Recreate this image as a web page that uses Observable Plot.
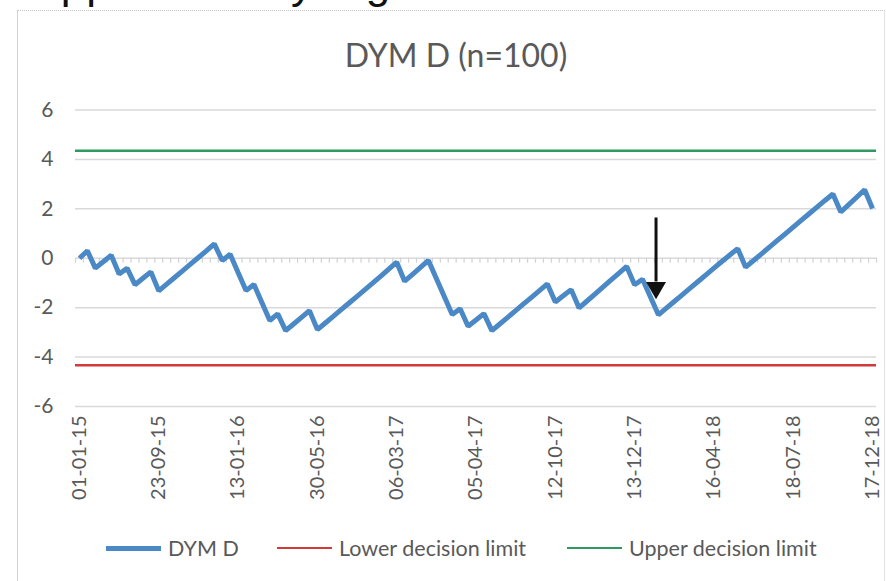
<!DOCTYPE html>
<html><head><meta charset="utf-8">
<script src="https://cdn.jsdelivr.net/npm/d3@7"></script>
<script src="https://cdn.jsdelivr.net/npm/@observablehq/plot@0.6"></script>
<style>
body{margin:0;background:#fff;}
#wrap{position:relative;width:886px;height:581px;overflow:hidden;font-family:Lato,"Open Sans",sans-serif;color:#595959;background:#fff;}
#doc{position:absolute;left:0;top:0;width:886px;height:8px;overflow:hidden;}
#doc span{position:absolute;left:5px;top:-39px;font-size:44px;line-height:44px;color:#111;white-space:nowrap;font-family:"Liberation Sans",sans-serif;letter-spacing:1px;}
#frame{position:absolute;left:17px;top:10px;width:866px;height:600px;border-left:1.5px solid #d2d2d2;border-top:1.5px dotted #c4c4c4;border-right:1.5px solid #e2e2e2;}
#title{position:absolute;left:0;width:912px;top:35px;text-align:center;font-size:32px;line-height:40px;}
#chart{position:absolute;left:0;top:95px;}
.lg{position:absolute;top:536px;height:24px;display:flex;align-items:center;font-size:21.5px;white-space:nowrap;}
.lg i{display:inline-block;width:55px;margin-right:7px;}
</style></head>
<body><div id="wrap">
<div id="doc"><span>Supplementary Figure</span></div>
<div id="frame"></div>
<div id="title"></div>
<div id="chart"></div>
<div id="legend"></div>
</div>
<script>
const title = "DYM D (n=100)";
const dateLabels = ["01-01-15","23-09-15","13-01-16","30-05-16","06-03-17","05-04-17","12-10-17","13-12-17","16-04-18","18-07-18","17-12-18"];
const labelEvery = 10;
const dymD = [0.00,0.30,-0.40,-0.14,0.12,-0.64,-0.40,-1.07,-0.81,-0.55,
-1.32,-1.05,-0.78,-0.51,-0.24,0.03,0.30,0.58,-0.09,0.16,
-0.58,-1.31,-1.06,-1.79,-2.52,-2.25,-2.93,-2.66,-2.39,-2.12,
-2.89,-2.62,-2.35,-2.08,-1.81,-1.54,-1.27,-1.00,-0.72,-0.44,
-0.16,-0.93,-0.65,-0.37,-0.09,-0.82,-1.55,-2.28,-2.04,-2.75,
-2.50,-2.24,-2.93,-2.66,-2.39,-2.12,-1.85,-1.58,-1.31,-1.04,
-1.77,-1.52,-1.27,-2.01,-1.73,-1.45,-1.17,-0.89,-0.61,-0.33,
-1.07,-0.85,-1.57,-2.29,-2.02,-1.75,-1.48,-1.21,-0.94,-0.67,
-0.40,-0.13,0.13,0.39,-0.36,-0.09,0.18,0.45,0.72,0.99,
1.26,1.53,1.80,2.07,2.34,2.60,1.87,2.17,2.47,2.77,2.01];
const lowerLimit = -4.33;
const upperLimit = 4.35;
const yTicks = [-6,-4,-2,0,2,4,6];
const arrowX = 72.7, arrowTop = 1.63, arrowTip = -1.66;
const seriesNames = ["DYM D","Lower decision limit","Upper decision limit"];
const seriesColors = ["#4a88c6","#d23a3a","#2e9a62"];

document.getElementById("title").textContent = title;

const pts = dymD.map((v,i)=>({i, v}));
const bounds = d3.range(-0.5, dymD.length, 1);

const chart = Plot.plot({
  width: 886, height: 411,
  marginLeft: 75, marginRight: 10, marginTop: 14.5, marginBottom: 100,
  style: {fontFamily: "Lato, 'Open Sans', sans-serif", fontSize: "20px", color: "#595959", background: "transparent"},
  x: {domain: [-0.5, dymD.length - 0.5], label: null},
  y: {domain: [-6, 6], label: null},
  marks: [
    Plot.ruleY(yTicks, {stroke: "#d9d9d9", strokeWidth: 1.5}),
    Plot.ruleX(bounds, {y1: 0, y2: -0.2, stroke: "#d2d2d2", strokeWidth: 1.2}),
    Plot.ruleY([upperLimit], {stroke: seriesColors[2], strokeWidth: 2.5}),
    Plot.ruleY([lowerLimit], {stroke: seriesColors[1], strokeWidth: 2.5}),
    Plot.line(pts, {x: "i", y: "v", stroke: seriesColors[0], strokeWidth: 5, strokeLinejoin: "miter", strokeLinecap: "butt"}),
    Plot.ruleX([arrowX], {y1: arrowTop, y2: arrowTip + 0.7, stroke: "#111", strokeWidth: 3}),
    Plot.dot([arrowX], {x: d=>d, y: ()=>arrowTip, dy: -11.5, symbol: "triangle", rotate: 180, r: 7.4, fill: "#111", stroke: "none"}),
    Plot.axisY({ticks: yTicks, tickSize: 0, tickPadding: 22, fontSize: 21, label: null, tickFormat: d => String(d)}),
    Plot.axisX({ticks: d3.range(0, dymD.length, labelEvery), tickFormat: i => dateLabels[i/labelEvery], tickRotate: -90, tickSize: 0, tickPadding: 9, fontSize: 20, label: null})
  ]
});
document.getElementById("chart").appendChild(chart);

const legendLeft = [106, 277, 567];
const legendWidth = [5, 2.5, 2.5];
const lg = document.getElementById("legend");
seriesNames.forEach((n,k)=>{
  const d = document.createElement("div");
  d.className = "lg";
  d.style.left = legendLeft[k] + "px";
  d.innerHTML = `<i style="height:${legendWidth[k]}px;background:${seriesColors[k]}"></i><span></span>`;
  d.querySelector("span").textContent = n;
  lg.appendChild(d);
});
</script>
</body></html>
